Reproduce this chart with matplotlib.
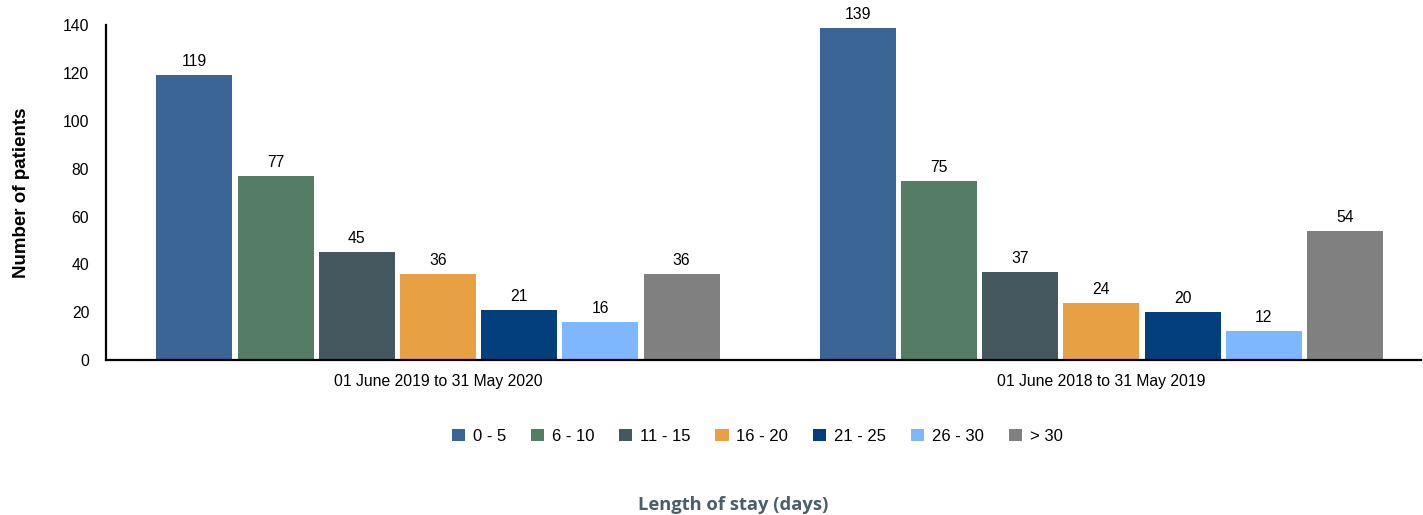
import numpy as np
import matplotlib
matplotlib.use("Agg")
import matplotlib.pyplot as plt

periods = ["01 June 2019 to 31 May 2020", "01 June 2018 to 31 May 2019"]
stay_bins = ["0 - 5", "6 - 10", "11 - 15", "16 - 20", "21 - 25", "26 - 30", "> 30"]
counts_2019_20 = [119, 77, 45, 36, 21, 16, 36]
counts_2018_19 = [139, 75, 37, 24, 20, 12, 54]
colors = ["#3A6595", "#557D65", "#45575F", "#E8A045", "#033F7D", "#7FB7FF", "#808080"]

plt.rcParams["font.family"] = ["Liberation Sans", "DejaVu Sans"]

fig = plt.figure(figsize=(14.23, 5.15), dpi=100)
ax = fig.add_axes([0.0745, 0.301, 0.924, 0.65])

x = np.arange(len(periods))
slot = 0.1224
width = 0.1145
values = np.array([counts_2019_20, counts_2018_19])
for i, label in enumerate(stay_bins):
    pos = x + (i - 3) * slot
    bars = ax.bar(pos, values[:, i], width, color=colors[i], label=label)
    for b, v in zip(bars, values[:, i]):
        ax.text(b.get_x() + b.get_width() / 2, v + 2.5, str(v),
                ha="center", va="bottom", fontsize=11.3)

ax.set_xlim(-0.5004, 1.4815)
ax.set_ylim(0, 140)
ax.set_yticks(range(0, 141, 20))
ax.set_xticks(x)
ax.set_xticklabels(periods)
ax.tick_params(length=0, labelsize=11.3, pad=10)
ax.tick_params(axis="y", pad=12)
for s in ["top", "right"]:
    ax.spines[s].set_visible(False)
for s in ["left", "bottom"]:
    ax.spines[s].set_linewidth(1.6)

ax.set_ylabel("Number of patients", fontsize=13.5, fontweight="bold", labelpad=24)

fig.legend(loc="center", bbox_to_anchor=(0.532, 0.153), ncol=7, frameon=False,
           fontsize=12, handlelength=0.8, handleheight=0.8, columnspacing=1.5,
           handletextpad=0.45)

fig.text(0.515, 0.02, "Length of stay (days)", ha="center", va="center",
         fontsize=13.2, fontweight="bold", color="#4B5E6A", family="Open Sans")

fig.savefig("out.png", dpi=100)
